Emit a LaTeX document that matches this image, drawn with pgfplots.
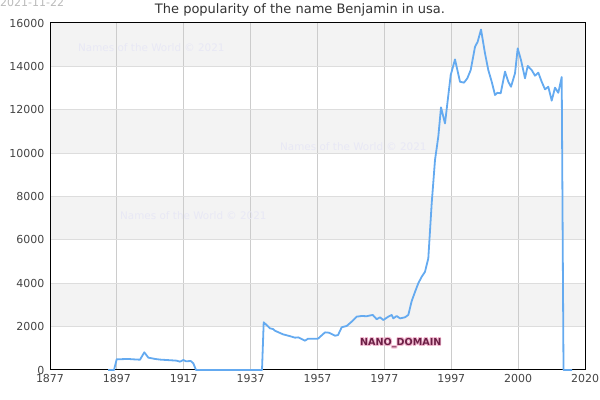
\documentclass[border=0pt]{standalone}
\usepackage{fontspec}
\setmainfont{DejaVu Sans}
\usepackage{pgfplots}
\pgfplotsset{compat=1.18}
\definecolor{linec}{HTML}{64AAF0}
\definecolor{band}{HTML}{F3F3F3}
\definecolor{hgrid}{HTML}{DDDDDD}
\definecolor{vgrid}{HTML}{CCCCCC}
\definecolor{ticktxt}{HTML}{444444}
\definecolor{wm}{HTML}{E8E8F5}
\definecolor{nano}{HTML}{6B1F45}
\definecolor{nanoedge}{HTML}{F2B8D0}
\begin{document}
\begin{tikzpicture}
\begin{axis}[
  set layers,
  scale only axis,
  width=535bp, height=347bp,
  at={(50bp,30bp)}, anchor=south west,
  xmin=50, xmax=585, ymin=0, ymax=16000,
  xtick={50,116.875,183.75,250.625,317.5,384.375,451.25,518.125,585},
  xticklabels={1877,1897,1917,1937,1957,1977,1997,2000,2020},
  ytick={0,2000,4000,6000,8000,10000,12000,14000,16000},
  /pgf/number format/assume math mode=true,
  /pgf/number format/1000 sep={},
  scaled y ticks=false,
  tick label style={font=\fontsize{11bp}{12bp}\selectfont, text=ticktxt},
  xticklabel style={yshift=-1bp},
  yticklabel style={xshift=-2bp},
  major tick length=0pt,
  xmajorgrids, ymajorgrids,
  x grid style={vgrid, line width=1bp},
  y grid style={hgrid, line width=1bp},
  axis line style={black, line width=1bp},
  clip=false,
]
\addplot[fill=band, draw=none, on layer=axis background] coordinates {(50,2000) (585,2000) (585,4000) (50,4000)} --cycle;
\addplot[fill=band, draw=none, on layer=axis background] coordinates {(50,6000) (585,6000) (585,8000) (50,8000)} --cycle;
\addplot[fill=band, draw=none, on layer=axis background] coordinates {(50,10000) (585,10000) (585,12000) (50,12000)} --cycle;
\addplot[fill=band, draw=none, on layer=axis background] coordinates {(50,14000) (585,14000) (585,16000) (50,16000)} --cycle;
\addplot[linec, line width=1.8bp, line join=round] coordinates {
(108,0) (114,0) (116.7,500) (122,500) (128,510) (134,490) (140,475)
(144.3,815) (148.3,570) (155,510) (160,480) (166.7,460) (172,445)
(176.7,430) (180,385) (183.3,460) (186,400) (190.7,415) (193.3,310)
(196,0) (262,0) (263.7,2200) (270,1920) (273,1890) (275,1810)
(283,1645) (290,1560) (295,1490) (298.3,1505) (305,1350) (308,1445)
(318,1445) (325,1735) (329,1720) (335,1580) (338,1610) (341.7,1970)
(346.7,2030) (351.7,2230) (356.7,2460) (361.7,2490) (366.7,2480)
(372.7,2540) (376.7,2340) (380,2430) (383.3,2305) (388.3,2460)
(391.7,2540) (393.3,2380) (396.7,2490) (400,2380) (405,2430)
(408.3,2540) (411.7,3180) (415,3600) (418.3,4000) (421.7,4300)
(425,4530) (428.3,5150) (431.7,7690) (435,9680) (438.3,10760)
(441,12110) (445,11370) (450.7,13600) (455,14320) (460,13290)
(464,13250) (467.3,13450) (470.7,13830) (475,14900) (477.7,15140)
(481,15700) (485,14600) (488.3,13830) (491.7,13290) (495,12680)
(497.3,12780) (500.7,12760) (505,13760) (508.3,13290) (511,13060)
(515,13680) (517.7,14830) (521,14290) (525,13450) (527.7,14020)
(531.7,13830) (535,13570) (538.3,13710) (541.7,13290) (545,12940)
(548.3,13060) (551.7,12420) (555,13020) (558.3,12780) (561.7,13510)
(563.5,0) (572,0)
};
\end{axis}
% texts
\node[anchor=north west, inner sep=0pt, text=black!27, font=\fontsize{11bp}{12bp}\selectfont] at (0bp,402bp) {2021-11-22};
\node[anchor=center, inner sep=0pt, text=black!80, font=\fontsize{13bp}{14bp}\selectfont] at (300bp,390bp) {The popularity of the name Benjamin in usa.};
\begin{scope}[every node/.style={anchor=west, inner sep=0pt, text=wm, font=\fontsize{10.4bp}{12bp}\selectfont}]
\node at (78bp,352bp) {Names of the World © 2021};
\node at (280bp,253bp) {Names of the World © 2021};
\node at (120bp,184bp) {Names of the World © 2021};
\end{scope}
\begin{scope}[every node/.style={anchor=west, inner sep=0pt, font=\bfseries\fontsize{9.6bp}{12bp}\selectfont}]
\foreach \dx/\dy in {-0.9/0,0.9/0,0/0.9,0/-0.9,-0.65/-0.65,0.65/0.65,-0.65/0.65,0.65/-0.65}{
  \node[text=nanoedge] at (360bp+\dx bp,57bp+\dy bp) {NANO\_DOMAIN};
}
\node[text=nano] at (360bp,57bp) {NANO\_DOMAIN};
\end{scope}
\pgfresetboundingbox
\useasboundingbox (0,0) rectangle (600bp,400bp);
\end{tikzpicture}
\end{document}
